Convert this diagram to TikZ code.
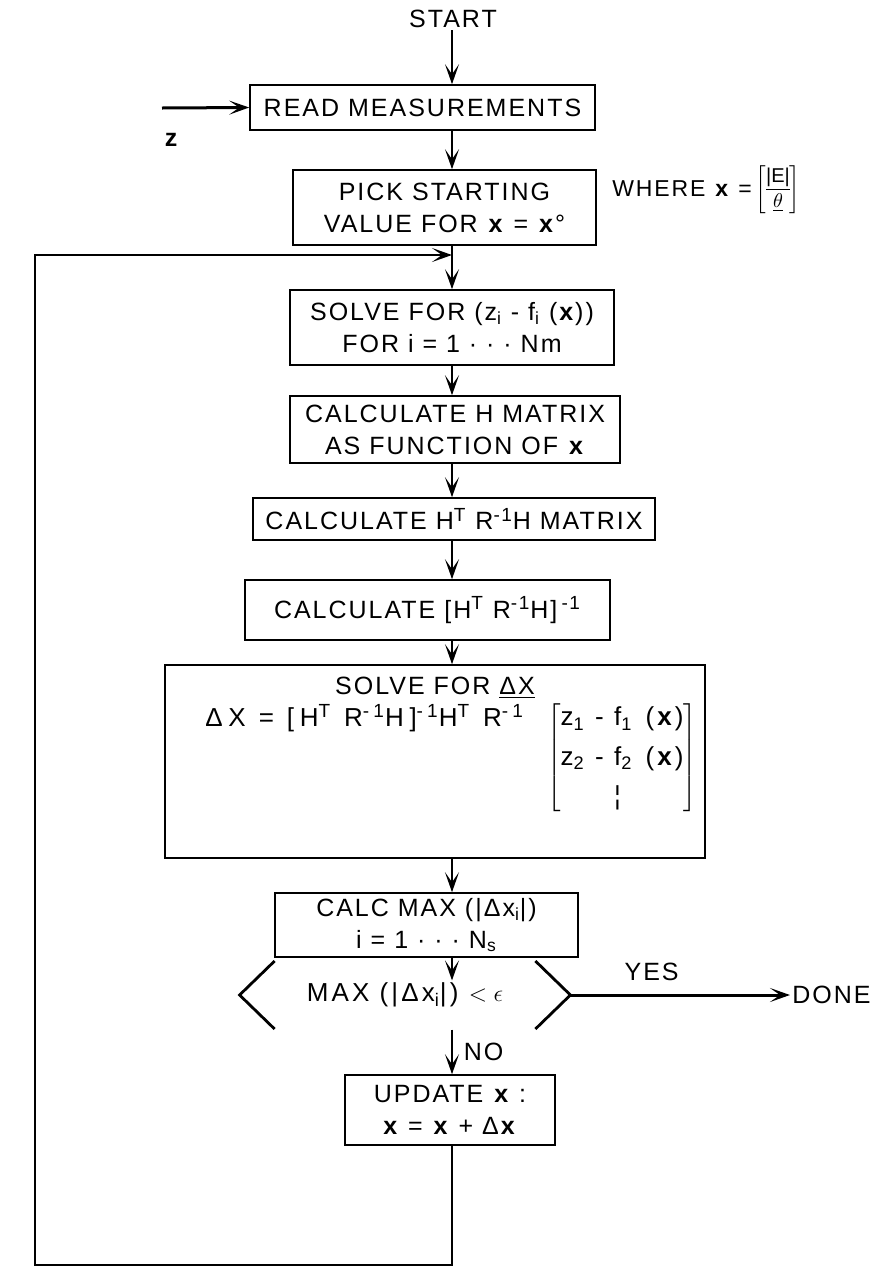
\documentclass[tikz,border=0pt]{standalone}
\usepackage{fontspec}
\setmainfont{Liberation Sans}[LetterSpace=8]
\usetikzlibrary{arrows.meta,positioning,calc}
\tikzset{
  box/.style={draw, line width=0.8pt, align=center, inner sep=2pt},
  tag/.style={align=center, inner sep=1pt},
  flow/.style={line width=1.1pt, -{Stealth[length=10pt,width=7pt,inset=5pt]}},
  plain/.style={line width=1.4pt},
  wide/.style={font=\fontsize{13}{17.5}\selectfont\addfontfeatures{LetterSpace=12}},
}
\newcommand{\vx}{\textbf{x}}
\newcommand{\up}[1]{\textsuperscript{\fontsize{9.5}{10}\selectfont #1}}

\begin{document}
\begin{tikzpicture}[x=0.5pt, y=-0.5pt, font=\fontsize{12.5}{16}\selectfont]
  \useasboundingbox (0,0) rectangle (871,1275);
  \coordinate (spine) at (452,0);
  \coordinate (join) at (452,255);
  \coordinate (back) at (35,1265);

  % input and start
  \node[tag] (start) at (453,19) {START};
  \node[box, minimum width=172.5pt, minimum height=22.5pt] (read) at (422.5,107.5) {READ MEASUREMENTS};
  \coordinate (zin) at (162,108);
  \node[tag] (zlab) at (172,140) {\textbf{z}};
  \node[box, minimum width=151.5pt, minimum height=37.5pt] (pick) at (444.5,207.5)
    {PICK STARTING\\VALUE FOR \vx{} = \vx°};
  \node[tag, anchor=west, font=\fontsize{11.5}{13}\selectfont] (where) at (610,190)
    {WHERE \vx{} =\,$\left[\def\arraystretch{0.95}\begin{tabular}{@{}c@{}}\fontsize{10}{11}\selectfont\addfontfeatures{LetterSpace=0}\underline{|E|}\\
      \fontsize{10}{11}\selectfont$\underline{\theta}$\end{tabular}\right]$};

  % main loop
  \node[box, minimum width=162pt, minimum height=37.5pt] (solve) at (452,327.5)
    {SOLVE FOR (z\textsubscript{i} - f\textsubscript{i} (\vx))\\FOR i = 1 · · · Nm};
  \node[box, minimum width=165pt, minimum height=33.5pt] (calch) at (455,429.5)
    {CALCULATE H MATRIX\\AS FUNCTION OF \vx};
  \node[box, minimum width=201pt, minimum height=21pt] (htrh) at (454,519)
    {CALCULATE H\up{T} R\up{-1}H MATRIX};
  \node[box, minimum width=182.5pt, minimum height=30pt] (inv) at (427.5,610)
    {CALCULATE [H\up{T} R\up{-1}H]\,\up{-1}};
  \node[box, minimum width=270pt, minimum height=96.5pt] (dx) at (435,761.5) {};
  \node[tag] (dxtitle) at (435,688) {SOLVE FOR \underline{ΔX}};
  \node[tag, anchor=base west, font=\fontsize{13}{17.5}\selectfont\addfontfeatures{LetterSpace=22}] (dxeq) at (203,726)
    {ΔX = [H\up{T} R\up{-1}H]\up{-1}H\up{T} R\up{-1}};
  \node[wide, anchor=north west, inner sep=0pt] (dxvec) at (547,698)
    {$\left[\def\arraystretch{1.12}\begin{tabular}{@{}l@{}}z\textsubscript{1} - f\textsubscript{1}\enspace(\vx)\\
      z\textsubscript{2} - f\textsubscript{2}\enspace(\vx)\\ \phantom{z\textsubscript{2} - }¦\end{tabular}\right]$};
  \node[box, minimum width=151.5pt, minimum height=32pt] (cmax) at (426.5,925)
    {CALC MAX (|Δx\textsubscript{i}|)\\i = 1 · · · N\textsubscript{s}};
  \node[tag, wide, minimum width=165pt] (dec) at (405,995)
    {MAX (|Δx\textsubscript{i}|) $<\epsilon$};
  \draw[plain] ($(dec.west)+(35,-34)$) -- (dec.west) -- ($(dec.west)+(35,34)$);
  \draw[plain] ($(dec.east)+(-35,-34)$) -- (dec.east) -- ($(dec.east)+(-35,34)$);
  \node[tag, anchor=west] (done) at (790,995) {DONE};
  \node[box, minimum width=105pt, minimum height=35pt] (update) at (450,1110)
    {UPDATE \vx{} :\\\vx{} = \vx{} + Δ\vx};

  % connectors
  \draw[flow] (start.south -| spine) -- (read.north -| spine);
  \draw[flow, line width=1.5pt] (zin) -- (read.west);
  \draw[flow] (read.south -| spine) -- (pick.north -| spine);
  \draw[flow] (pick.south -| spine) -- (solve.north -| spine);
  \draw[flow] (solve.south -| spine) -- (calch.north -| spine);
  \draw[flow] (calch.south -| spine) -- (htrh.north -| spine);
  \draw[flow] (htrh.south -| spine) -- (inv.north -| spine);
  \draw[flow] (inv.south -| spine) -- (dx.north -| spine);
  \draw[flow] (dx.south -| spine) -- (cmax.north -| spine);
  \draw[flow] (cmax.south -| spine) -- (dec.north -| spine);
  \draw[flow, line width=1.5pt] (dec.east) -- node[above=3pt, pos=0.37] {YES} (done.west);
  \draw[flow] ($(dec.south -| spine)+(0,20)$) -- node[right=2pt] {NO} (update.north -| spine);
  \draw[flow, plain] (update.south -| spine) |- (back) |- (join);
\end{tikzpicture}
\end{document}
